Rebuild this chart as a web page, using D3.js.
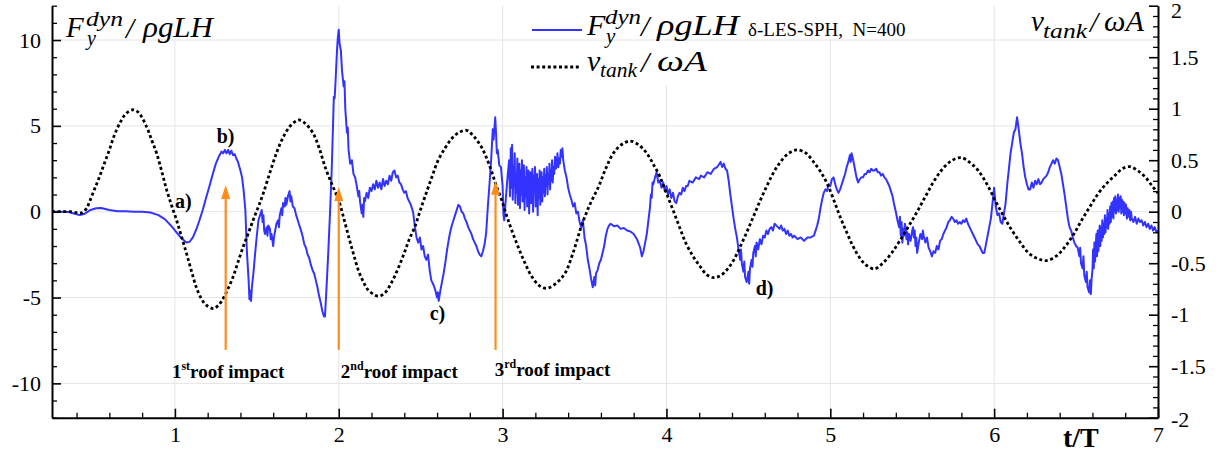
<!DOCTYPE html>
<html><head><meta charset="utf-8">
<script src="https://cdn.jsdelivr.net/npm/d3@7/dist/d3.min.js"></script>
<style>
html,body{margin:0;padding:0;background:#fff;}
svg{display:block;}
</style></head>
<body>
<svg id="chart" width="1221" height="454"></svg>
<script>
// ---------------- data ----------------
const xTicks = [1, 2, 3, 4, 5, 6, 7];
const leftTicks = [-10, -5, 0, 5, 10];
const rightTicks = [-2, -1.5, -1, -0.5, 0, 0.5, 1, 1.5, 2];

// F_y^dyn / rho g L H  (t/T, value)
const forceSeries = [
[0.25,0],[0.30,0],[0.35,-0.02],[0.40,-0.15],[0.42,-0.2],[0.45,-0.12],[0.48,0.08],[0.52,0.2],[0.55,0.22],[0.60,0.1],
[0.65,0.03],[0.70,0.02],[0.75,0],[0.80,0],[0.85,-0.05],[0.90,-0.2],[0.94,-0.45],[0.98,-0.85],[1.01,-1.2],[1.04,-1.55],
[1.07,-1.8],[1.09,-1.75],[1.11,-1.5],[1.13,-1.05],[1.15,-0.5],[1.17,0.1],[1.19,0.8],[1.21,1.45],[1.23,2.15],[1.25,2.8],
[1.27,3.25],[1.285,3.5],[1.295,3.4],[1.305,3.6],[1.315,3.4],[1.325,3.6],[1.335,3.35],[1.345,3.55],[1.355,3.3],[1.365,3.35],
[1.375,3.1],[1.385,2.9],[1.40,2.4],[1.41,2.0],[1.42,1.2],[1.43,0.1],[1.44,-2.4],[1.45,-4.0],[1.455,-5.1],[1.46,-4.6],
[1.465,-5.2],[1.47,-4.4],[1.48,-3.5],[1.49,-2.4],[1.50,-1.4],[1.51,-0.5],[1.52,-0.2],[1.53,0.1],[1.535,-0.6],[1.54,-0.2],
[1.545,-1.1],[1.55,-1.3],[1.56,-0.9],[1.565,-1.4],[1.57,-0.8],[1.58,-1.0],[1.585,-1.6],[1.59,-1.3],[1.60,-2.0],[1.605,-1.5],
[1.61,-1.2],[1.62,-0.7],[1.63,-0.5],[1.635,-0.9],[1.64,-0.2],[1.65,0.2],[1.655,-0.2],[1.66,0.5],[1.67,0.3],[1.675,0.8],
[1.68,0.4],[1.69,0.9],[1.70,1.2],[1.705,0.6],[1.71,0.9],[1.72,0.3],[1.73,0.2],[1.74,-0.2],[1.75,-0.5],[1.76,-0.8],
[1.77,-1.1],[1.78,-1.45],[1.79,-1.9],[1.80,-2.1],[1.81,-2.5],[1.82,-2.7],[1.83,-3.1],[1.84,-3.4],[1.85,-3.6],[1.86,-4.0],
[1.87,-4.4],[1.88,-4.9],[1.89,-5.3],[1.90,-5.8],[1.91,-6.1],[1.916,-6.1],[1.925,-4.5],[1.936,-2.4],[1.947,0.0],[1.957,2.4],
[1.965,5.0],[1.97,6.7],[1.975,6.6],[1.98,7.5],[1.99,9.5],[1.995,10.2],[2.00,10.6],[2.005,9.8],[2.013,9.4],[2.02,8.2],
[2.03,7.3],[2.035,7.6],[2.04,6.0],[2.05,4.6],[2.055,4.9],[2.06,3.6],[2.07,2.8],[2.08,3.0],[2.09,2.2],[2.10,2.0],
[2.11,1.5],[2.12,0.9],[2.125,1.2],[2.13,0.6],[2.14,-0.1],[2.145,0.4],[2.15,-0.3],[2.155,0.8],[2.16,0.6],[2.17,1.1],
[2.18,0.8],[2.19,1.4],[2.20,1.2],[2.21,1.6],[2.22,1.3],[2.23,1.8],[2.24,1.4],[2.25,1.7],[2.26,1.3],[2.27,1.9],
[2.28,1.5],[2.29,1.8],[2.30,1.6],[2.31,2.1],[2.32,1.8],[2.33,2.3],[2.34,2.4],[2.35,2.0],[2.36,2.1],[2.37,1.7],
[2.38,1.6],[2.39,1.3],[2.40,1.1],[2.41,1.2],[2.42,0.8],[2.43,0.6],[2.44,0.4],[2.45,0.1],[2.455,-0.1],[2.465,-0.9],
[2.475,-1.5],[2.485,-1.8],[2.495,-1.5],[2.505,-2.2],[2.515,-2.0],[2.525,-2.6],[2.535,-2.8],[2.545,-2.5],[2.555,-3.4],[2.565,-4.0],
[2.58,-4.3],[2.59,-4.6],[2.60,-5.0],[2.605,-4.7],[2.61,-5.2],[2.62,-4.6],[2.63,-4.1],[2.64,-3.6],[2.65,-3.0],[2.66,-2.3],
[2.67,-1.7],[2.68,-1.2],[2.69,-0.8],[2.70,-0.5],[2.71,-0.2],[2.72,0.1],[2.73,0.4],[2.74,0.3],[2.75,0.0],[2.76,-0.1],
[2.77,-0.4],[2.78,-0.6],[2.79,-0.9],[2.80,-1.1],[2.81,-1.3],[2.82,-1.6],[2.83,-1.8],[2.84,-2.0],[2.85,-2.3],[2.86,-2.5],
[2.87,-2.6],[2.88,-2.3],[2.89,-1.9],[2.90,-1.2],[2.91,0.3],[2.92,1.6],[2.93,3.0],[2.94,4.8],[2.945,4.2],[2.955,5.5],
[2.96,4.6],[2.965,3.4],[2.97,3.6],[2.98,2.7],[2.99,2.6],[3.00,1.5],[3.005,-0.1],[3.01,-0.5],[3.02,0.8],[3.03,2.0],
[3.04,3.0],[3.045,0.9],[3.05,3.7],[3.054,1.4],[3.058,3.9],[3.062,0.7],[3.066,2.6],[3.07,1.5],[3.074,3.4],[3.078,0.5],
[3.082,2.2],[3.086,1.1],[3.09,3.1],[3.094,0.4],[3.098,1.9],[3.102,2.8],[3.106,0.2],[3.11,2.4],[3.114,1.0],[3.118,3.0],
[3.122,0.6],[3.126,1.8],[3.13,2.7],[3.134,0.1],[3.138,2.0],[3.142,0.9],[3.146,2.6],[3.15,0.3],[3.154,1.6],[3.158,2.4],
[3.162,-0.1],[3.166,1.7],[3.17,2.3],[3.174,0.5],[3.178,1.4],[3.182,2.5],[3.186,0.0],[3.19,2.1],[3.194,1.2],[3.198,2.6],
[3.202,0.3],[3.206,1.5],[3.21,2.2],[3.214,-0.2],[3.218,1.9],[3.222,0.8],[3.226,2.4],[3.23,0.4],[3.234,1.6],[3.238,2.3],
[3.242,0.6],[3.246,2.0],[3.25,1.1],[3.254,2.5],[3.258,0.9],[3.262,2.1],[3.266,1.5],[3.27,2.6],[3.274,1.0],[3.278,2.2],
[3.282,1.6],[3.286,2.8],[3.29,1.3],[3.294,2.4],[3.298,1.8],[3.302,3.0],[3.306,1.7],[3.31,2.6],[3.315,2.2],[3.32,3.2],
[3.325,2.5],[3.33,2.7],[3.335,3.4],[3.34,2.6],[3.345,3.1],[3.35,2.8],[3.355,3.6],[3.36,3.2],[3.365,3.7],[3.37,3.0],
[3.38,2.4],[3.39,2.0],[3.40,1.4],[3.41,1.0],[3.42,0.7],[3.43,0.3],[3.44,0.5],
[3.45,-0.1],[3.46,0.0],[3.47,-0.6],[3.48,-0.9],[3.49,-0.5],[3.50,-1.5],[3.51,-2.0],[3.52,-2.8],[3.53,-3.3],[3.54,-3.9],
[3.55,-4.4],[3.56,-3.8],[3.565,-4.3],[3.57,-3.6],[3.58,-3.4],[3.59,-3.0],[3.60,-2.8],[3.61,-2.4],[3.62,-2.0],[3.63,-1.4],
[3.64,-1.0],[3.65,-0.8],[3.66,-0.7],[3.68,-0.85],[3.70,-0.8],[3.72,-1.0],[3.74,-0.95],[3.76,-1.1],[3.78,-1.15],[3.80,-1.3],
[3.82,-1.6],[3.84,-2.1],[3.85,-2.6],[3.86,-2.3],[3.87,-1.8],[3.88,-1.3],[3.89,-0.5],[3.90,0.3],[3.905,1.0],[3.91,0.8],
[3.915,1.7],[3.92,1.6],[3.93,2.0],[3.94,2.3],[3.95,1.7],[3.96,1.8],[3.97,1.4],[3.98,1.7],[3.99,1.2],[4.00,1.5],
[4.01,1.0],[4.02,1.3],[4.03,0.8],[4.04,1.1],[4.05,0.6],[4.06,0.5],[4.07,0.9],[4.08,1.1],[4.09,1.0],[4.10,1.4],
[4.11,1.2],[4.12,1.5],[4.13,1.5],[4.14,1.8],[4.16,1.7],[4.18,2.0],[4.20,1.9],[4.21,2.1],[4.23,2.0],[4.25,2.3],
[4.27,2.2],[4.29,2.5],[4.31,2.6],[4.33,2.9],[4.34,2.6],[4.35,2.8],[4.36,2.5],[4.37,2.4],[4.38,1.8],[4.39,1.0],
[4.40,0.3],[4.41,-0.4],[4.42,-1.0],[4.43,-1.5],[4.44,-2.2],[4.45,-2.8],[4.455,-2.2],[4.46,-3.0],[4.47,-3.5],[4.475,-2.9],
[4.48,-3.8],[4.49,-4.1],[4.50,-3.5],[4.505,-4.2],[4.51,-3.3],[4.52,-2.8],[4.525,-3.2],[4.53,-2.4],[4.54,-2.0],[4.545,-2.6],
[4.55,-1.8],[4.56,-2.2],[4.57,-1.6],[4.58,-1.9],[4.59,-1.4],[4.60,-1.5],[4.61,-1.1],[4.62,-1.3],[4.63,-1.0],[4.64,-0.9],
[4.65,-1.1],[4.66,-0.7],[4.67,-0.8],[4.68,-0.9],[4.69,-1.0],[4.70,-0.8],[4.71,-1.1],[4.72,-1.0],[4.73,-1.3],[4.74,-1.1],
[4.75,-1.4],[4.76,-1.3],[4.77,-1.5],[4.78,-1.4],[4.80,-1.6],[4.82,-1.5],[4.84,-1.7],[4.86,-1.5],[4.88,-1.5],[4.90,-1.4],
[4.91,-1.1],[4.92,-0.8],[4.93,-0.4],[4.94,0.2],[4.95,0.7],[4.96,1.1],[4.97,1.3],[4.98,1.2],[4.99,1.6],[5.00,1.5],
[5.01,1.9],[5.02,2.0],[5.03,1.6],[5.04,1.3],[5.05,1.1],[5.06,1.3],[5.07,1.6],[5.08,1.9],[5.09,2.2],[5.10,2.6],
[5.11,2.9],[5.12,3.3],[5.125,2.9],[5.13,3.4],[5.14,3.0],[5.15,2.5],[5.16,2.0],[5.17,1.7],[5.18,1.9],[5.19,2.0],
[5.20,2.0],[5.21,2.2],[5.22,2.2],[5.23,2.4],[5.24,2.3],[5.25,2.5],[5.26,2.4],[5.27,2.4],[5.28,2.5],[5.29,2.3],
[5.30,2.3],[5.31,2.1],[5.32,2.2],[5.33,2.0],[5.34,1.9],[5.35,1.7],[5.36,1.5],[5.37,1.2],[5.38,0.9],[5.39,0.4],
[5.40,0.0],[5.41,-0.5],[5.42,-0.9],[5.425,-0.3],[5.43,-1.4],[5.435,-0.6],[5.44,-1.8],[5.445,-1.0],[5.45,-1.4],[5.455,-0.7],
[5.46,-0.9],[5.465,-1.6],[5.47,-1.2],[5.475,-1.9],[5.48,-1.3],[5.49,-1.7],[5.50,-1.1],[5.505,-0.9],[5.51,-1.5],[5.515,-1.1],
[5.52,-2.0],[5.525,-1.5],[5.53,-2.4],[5.54,-1.8],[5.55,-1.3],[5.56,-1.6],[5.565,-1.1],[5.57,-1.4],[5.58,-1.8],[5.59,-1.5],
[5.60,-2.1],[5.61,-2.3],[5.62,-2.6],[5.63,-2.3],[5.64,-2.4],[5.65,-2.0],[5.66,-2.2],[5.67,-1.7],[5.68,-1.6],[5.69,-1.3],
[5.70,-1.1],[5.71,-0.9],[5.72,-0.6],[5.73,-0.5],[5.74,-0.3],[5.75,-0.4],[5.76,-0.6],[5.77,-0.5],[5.78,-0.7],[5.79,-0.6],
[5.80,-0.7],[5.81,-0.5],[5.82,-0.6],[5.83,-0.4],[5.84,-0.7],[5.85,-0.9],[5.86,-1.1],[5.87,-1.3],[5.88,-1.5],[5.89,-1.7],
[5.90,-1.9],[5.91,-2.0],[5.92,-2.2],[5.93,-2.4],[5.94,-2.4],[5.95,-1.9],[5.96,-1.4],[5.97,-0.9],[5.98,-0.4],[5.99,0.5],
[6.00,1.4],[6.005,0.8],[6.01,0.3],[6.02,-0.2],[6.03,-0.1],[6.04,-0.6],[6.05,-0.7],[6.06,-0.1],[6.07,0.5],[6.08,1.6],
[6.09,2.5],[6.10,3.4],[6.11,4.0],[6.12,4.6],[6.13,4.8],[6.14,5.5],[6.15,4.8],[6.16,4.0],[6.17,3.4],[6.18,2.6],
[6.19,2.0],[6.20,1.6],[6.21,1.3],[6.22,1.3],[6.23,1.7],[6.24,1.4],[6.25,1.8],[6.26,1.6],[6.27,1.9],[6.28,1.6],
[6.29,1.7],[6.30,1.9],[6.31,2.0],[6.32,2.1],[6.33,2.3],[6.34,2.6],[6.35,2.8],[6.36,3.0],[6.37,2.8],[6.38,3.1],
[6.39,3.0],[6.40,2.6],[6.41,2.2],[6.42,1.6],[6.43,1.0],[6.44,0.3],[6.45,-0.4],[6.46,-0.9],[6.47,-1.1],[6.48,-1.5],
[6.49,-1.8],[6.50,-2.0],[6.51,-2.1],[6.52,-2.6],[6.525,-2.1],[6.53,-3.0],[6.54,-3.3],[6.545,-2.6],[6.55,-3.7],[6.56,-4.1],
[6.565,-3.5],[6.57,-4.4],[6.58,-4.7],[6.585,-4.0],[6.59,-4.8],[6.595,-3.9],
[6.60,-3.4],[6.604,-2.2],[6.608,-3.3],[6.612,-1.8],[6.616,-2.9],[6.62,-2.0],[6.624,-1.3],[6.628,-2.6],[6.632,-1.1],[6.636,-2.3],
[6.64,-1.6],[6.644,-0.8],[6.648,-2.0],[6.652,-0.9],[6.656,-1.7],[6.66,-0.5],[6.664,-1.5],[6.668,-0.7],[6.672,-1.3],[6.676,-0.2],
[6.68,-1.2],[6.684,-0.4],[6.688,-0.9],[6.692,0.1],[6.696,-1.0],[6.70,-0.1],[6.704,-0.7],[6.708,0.3],[6.712,-0.6],[6.716,0.5],
[6.72,-0.3],[6.724,0.6],[6.728,-0.4],[6.732,0.8],[6.736,0.0],[6.74,0.9],[6.744,-0.1],[6.748,0.7],[6.752,0.1],[6.756,1.0],
[6.76,0.0],[6.764,0.8],[6.768,0.2],[6.772,0.9],[6.776,-0.1],[6.78,0.7],[6.784,0.0],[6.788,0.6],[6.792,-0.2],[6.796,0.5],
[6.80,-0.1],[6.805,0.4],[6.81,-0.4],[6.815,0.2],[6.82,-0.3],[6.825,0.1],[6.83,-0.5],[6.835,0.0],[6.84,-0.4],[6.85,-0.6],
[6.86,-0.3],[6.87,-0.7],[6.88,-0.4],[6.89,-0.6],[6.90,-0.5],[6.91,-0.8],[6.92,-0.6],
[6.93,-0.9],[6.94,-0.7],[6.95,-1.0],[6.96,-0.8],[6.97,-1.1],[6.98,-0.9],[6.99,-1.2],[7.00,-1.1]
];

// v_tank / omega A (t/T, value on right axis)
const velocitySeries = [
[0.25,0],[0.30,0],[0.36,0],[0.40,-0.01],[0.43,-0.012],[0.46,0.03],[0.48,0.10],[0.51,0.22],[0.54,0.34],[0.57,0.47],
[0.60,0.60],[0.63,0.74],[0.664,0.86],[0.70,0.95],[0.745,0.99],[0.78,0.96],[0.827,0.825],[0.86,0.69],[0.888,0.57],[0.92,0.39],
[0.95,0.21],[0.98,0.06],[1.01,-0.08],[1.04,-0.24],[1.07,-0.40],[1.10,-0.57],[1.13,-0.73],[1.16,-0.84],[1.19,-0.905],[1.234,-0.94],
[1.265,-0.91],[1.295,-0.84],[1.325,-0.745],[1.356,-0.63],[1.385,-0.49],[1.417,-0.34],[1.448,-0.21],[1.478,-0.08],[1.51,0.05],[1.54,0.18],
[1.58,0.38],[1.62,0.57],[1.66,0.72],[1.70,0.825],[1.735,0.875],[1.763,0.89],[1.80,0.85],[1.844,0.76],[1.88,0.62],[1.92,0.42],
[1.96,0.26],[2.0,0.11],[2.03,-0.06],[2.06,-0.24],[2.09,-0.41],[2.12,-0.57],[2.15,-0.68],[2.18,-0.76],[2.24,-0.82],[2.28,-0.79],
[2.32,-0.695],[2.36,-0.56],[2.40,-0.40],[2.43,-0.27],[2.465,-0.145],[2.495,0.0],[2.526,0.145],[2.567,0.33],[2.607,0.50],[2.65,0.62],
[2.69,0.71],[2.735,0.77],[2.78,0.79],[2.825,0.73],[2.87,0.63],[2.90,0.53],[2.93,0.405],[2.96,0.26],[2.995,0.11],[3.025,-0.04],
[3.056,-0.18],[3.097,-0.35],[3.137,-0.50],[3.178,-0.63],[3.218,-0.71],[3.25,-0.74],[3.28,-0.74],[3.33,-0.69],[3.38,-0.60],[3.43,-0.40],
[3.48,-0.145],[3.53,0.06],[3.585,0.24],[3.63,0.42],[3.676,0.567],[3.725,0.65],[3.777,0.686],[3.83,0.65],[3.88,0.567],[3.92,0.46],
[3.96,0.34],[4.0,0.18],[4.04,0.017],[4.08,-0.15],[4.12,-0.31],[4.165,-0.44],[4.205,-0.53],[4.245,-0.61],[4.287,-0.64],[4.33,-0.62],
[4.368,-0.566],[4.41,-0.47],[4.45,-0.34],[4.49,-0.20],[4.53,-0.05],[4.57,0.10],[4.61,0.24],[4.65,0.37],[4.69,0.47],[4.74,0.56],
[4.795,0.60],[4.85,0.57],[4.897,0.485],[4.94,0.39],[4.98,0.275],[5.02,0.12],[5.06,-0.05],[5.10,-0.20],[5.14,-0.34],[5.18,-0.45],
[5.22,-0.52],[5.27,-0.555],[5.32,-0.50],[5.375,-0.40],[5.425,-0.28],[5.477,-0.145],[5.53,0.0],[5.58,0.146],[5.63,0.29],[5.68,0.405],
[5.74,0.495],[5.80,0.525],[5.85,0.48],[5.90,0.405],[5.955,0.27],[6.006,0.11],[6.057,-0.04],[6.108,-0.18],[6.16,-0.30],[6.21,-0.40],
[6.265,-0.455],[6.32,-0.475],[6.38,-0.43],[6.433,-0.34],[6.485,-0.22],[6.535,-0.08],[6.585,0.05],[6.637,0.18],[6.69,0.28],[6.74,0.356],
[6.785,0.42],[6.83,0.437],[6.875,0.40],[6.92,0.34],[6.96,0.26],[7.0,0.18]
];

// point labels (t/T, F position) and roof impacts
const pointLabels = ["a)", "b)", "c)", "d)"];
const pointLabelT = [1.0, 1.255, 2.555, 4.545];
const pointLabelF = [0.2, 4.0, -6.3, -4.85];
const impactT = [1.31, 2.0, 2.957];
const impactTipF = [1.55, 1.44, 1.8];
const impactBaseF = -8.05;
const impactOrd = ["1", "2", "3"];
const impactSup = ["st", "nd", "rd"];
const impactLabelT = [0.982, 2.013, 2.952];
const impactLabelF = [-9.7, -9.7, -9.55];

// ---------------- chart ----------------
const svg = d3.select("#chart");
const x = d3.scaleLinear().domain([0.25, 7]).range([52, 1158]);
const yL = d3.scaleLinear().domain([-12, 12]).range([417.7, 5.7]);
const yR = d3.scaleLinear().domain([-2, 2]).range([417.7, 5.7]);
const SERIF = "'Liberation Serif','Times New Roman',serif";
const GRID = "#e4e4e4";
const BLUE = "#3333ff";
const ORANGE = "#ff8c1a";

// grid
const grid = svg.append("g");
grid.selectAll("line.v").data(xTicks.filter(d => d < 7)).join("line")
  .attr("x1", d => x(d)).attr("x2", d => x(d)).attr("y1", yL(12)).attr("y2", yL(-12))
  .attr("stroke", GRID).attr("stroke-width", 1);
grid.selectAll("line.h").data(leftTicks).join("line")
  .attr("x1", x(0.25)).attr("x2", x(7)).attr("y1", d => yL(d)).attr("y2", d => yL(d))
  .attr("stroke", GRID).attr("stroke-width", 1);

// white label boxes (Tecplot text frames)
const boxes = [[58, 4, 165, 35], [584, 4, 326, 35], [584, 41.5, 128, 44], [1022, 4, 130, 34]];
svg.append("g").selectAll("rect").data(boxes).join("rect")
  .attr("x", d => d[0]).attr("y", d => d[1]).attr("width", d => d[2]).attr("height", d => d[3])
  .attr("fill", "#fff");

// curves
const forceLine = d3.line().x(d => x(d[0])).y(d => yL(d[1]));
svg.append("path").datum(forceSeries).attr("d", forceLine)
  .attr("fill", "none").attr("stroke", BLUE).attr("stroke-width", 2).attr("stroke-linejoin", "round");

const velLine = d3.line().x(d => x(d[0])).y(d => yR(d[1])).curve(d3.curveCatmullRom);
svg.append("path").datum(velocitySeries).attr("d", velLine)
  .attr("fill", "none").attr("stroke", "#000").attr("stroke-width", 2.8).attr("stroke-dasharray", "3,2.6");

// axes
function styleAxis(g) {
  g.select(".domain").attr("stroke", "#000").attr("stroke-width", 2);
  g.selectAll(".tick line").attr("stroke", "#000").attr("stroke-width", 1.6);
  g.selectAll(".tick text").style("font-family", SERIF).attr("font-size", 22).attr("fill", "#000");
}
const fmt = d => String(d);
// minor ticks
const leftMinor = d3.range(-12, 13, 1).filter(d => d % 5 !== 0);
const rightMinor = d3.range(-20, 21, 1).filter(d => d % 5 !== 0).map(d => d / 10);
const bottomMinor = d3.range(2, 35, 1).filter(d => d % 5 !== 0).map(d => d / 5);

svg.append("g").attr("transform", `translate(${x(0.25)},0)`)
  .call(d3.axisLeft(yL).tickValues(leftMinor).tickSize(-5).tickSizeOuter(0).tickFormat(""))
  .call(g => { g.select(".domain").remove(); g.selectAll(".tick line").attr("stroke", "#000").attr("stroke-width", 1.3); });
svg.append("g").attr("transform", `translate(${x(7)},0)`)
  .call(d3.axisRight(yR).tickValues(rightMinor).tickSize(-5).tickSizeOuter(0).tickFormat(""))
  .call(g => { g.select(".domain").remove(); g.selectAll(".tick line").attr("stroke", "#000").attr("stroke-width", 1.3); });
svg.append("g").attr("transform", `translate(0,${yL(-12)})`)
  .call(d3.axisBottom(x).tickValues(bottomMinor).tickSize(-5).tickSizeOuter(0).tickFormat(""))
  .call(g => { g.select(".domain").remove(); g.selectAll(".tick line").attr("stroke", "#000").attr("stroke-width", 1.3); });

svg.append("g").attr("transform", `translate(${x(0.25)},0)`)
  .call(d3.axisLeft(yL).tickValues(leftTicks).tickSize(-9).tickSizeOuter(0).tickPadding(11).tickFormat(fmt))
  .call(styleAxis);
svg.append("g").attr("transform", `translate(${x(7)},0)`)
  .call(d3.axisRight(yR).tickValues(rightTicks).tickSize(-9).tickSizeOuter(0).tickPadding(13).tickFormat(fmt))
  .call(styleAxis)
  .call(g => g.selectAll(".tick text").filter(d => d === 2).attr("dy", "0.55em"))
  .call(g => g.selectAll(".tick text").filter(d => d === -2).attr("dy", "0.4em"));
svg.append("g").attr("transform", `translate(0,${yL(-12)})`)
  .call(d3.axisBottom(x).tickValues(xTicks).tickSize(-9).tickSizeOuter(0).tickPadding(9).tickFormat(fmt))
  .call(styleAxis);

// x axis title
svg.append("text").attr("x", 1063).attr("y", 447).style("font-family", SERIF).attr("font-weight", "bold")
  .attr("font-size", 28).text("t/T");

// math labels: pieces [text, x, y, size, italic, textLength]
function mathLabel(parts) {
  const g = svg.append("g");
  parts.forEach(p => {
    const t = g.append("text").attr("x", p[1]).attr("y", p[2]).style("font-family", SERIF)
      .attr("font-size", p[3]).attr("font-style", p[4] ? "italic" : "normal").attr("fill", "#000").text(p[0]);
    if (p[5]) t.attr("textLength", p[5]).attr("lengthAdjust", "spacingAndGlyphs");
  });
}
// left axis title
mathLabel([["F", 66, 37, 29, true], ["dyn", 86, 26, 20, true, 37], ["y", 87, 45, 20, true],
  ["/", 126, 38, 29, true], ["ρgLH", 143, 37, 29, true, 70]]);
// right axis title
mathLabel([["v", 1031, 31, 29, true], ["tank", 1043, 38, 20, true, 44], ["/", 1090, 32, 29, true],
  ["ωA", 1104, 31, 29, true, 40]]);

// legend
svg.append("line").attr("x1", 532).attr("x2", 582).attr("y1", 30).attr("y2", 30)
  .attr("stroke", BLUE).attr("stroke-width", 1.8);
mathLabel([["F", 587, 35, 30, true], ["dyn", 605, 24, 21, true, 36], ["y", 606, 43, 21, true],
  ["/", 641, 36, 30, true], ["ρgLH", 657, 35, 30, true, 82]]);
svg.append("text").attr("x", 748).attr("y", 36).style("font-family", SERIF).attr("font-size", 19)
  .attr("xml:space", "preserve").text("δ-LES-SPH,  N=400");
svg.append("line").attr("x1", 531).attr("x2", 580).attr("y1", 67).attr("y2", 67)
  .attr("stroke", "#000").attr("stroke-width", 2.8).attr("stroke-dasharray", "3,2.6");
mathLabel([["v", 587, 71, 30, true], ["tank", 600, 77, 21, true, 37], ["/", 641, 72, 30, true],
  ["ωA", 657, 71, 30, true, 50]]);

// point labels
svg.append("g").selectAll("text").data(pointLabels).join("text")
  .attr("x", (d, i) => x(pointLabelT[i])).attr("y", (d, i) => yL(pointLabelF[i]))
  .style("font-family", SERIF).attr("font-weight", "bold").attr("font-size", 20).text(d => d);

// roof impact arrows
const arrows = svg.append("g");
impactT.forEach((t, i) => {
  const ax = x(t), tip = yL(impactTipF[i]), base = yL(impactBaseF);
  arrows.append("line").attr("x1", ax).attr("x2", ax).attr("y1", base).attr("y2", tip + 12)
    .attr("stroke", ORANGE).attr("stroke-width", 2.2);
  arrows.append("path").attr("d", `M${ax},${tip} L${ax - 4.5},${tip + 14} L${ax + 4.5},${tip + 14} Z`)
    .attr("fill", ORANGE);
  const tx = svg.append("text").attr("x", x(impactLabelT[i])).attr("y", yL(impactLabelF[i]))
    .style("font-family", SERIF).attr("font-weight", "bold").attr("font-size", 19);
  tx.append("tspan").text(impactOrd[i]);
  tx.append("tspan").attr("font-size", 12).attr("dy", -8).text(impactSup[i]);
  tx.append("tspan").attr("dy", 8).text("roof impact");
});
</script>
</body></html>
